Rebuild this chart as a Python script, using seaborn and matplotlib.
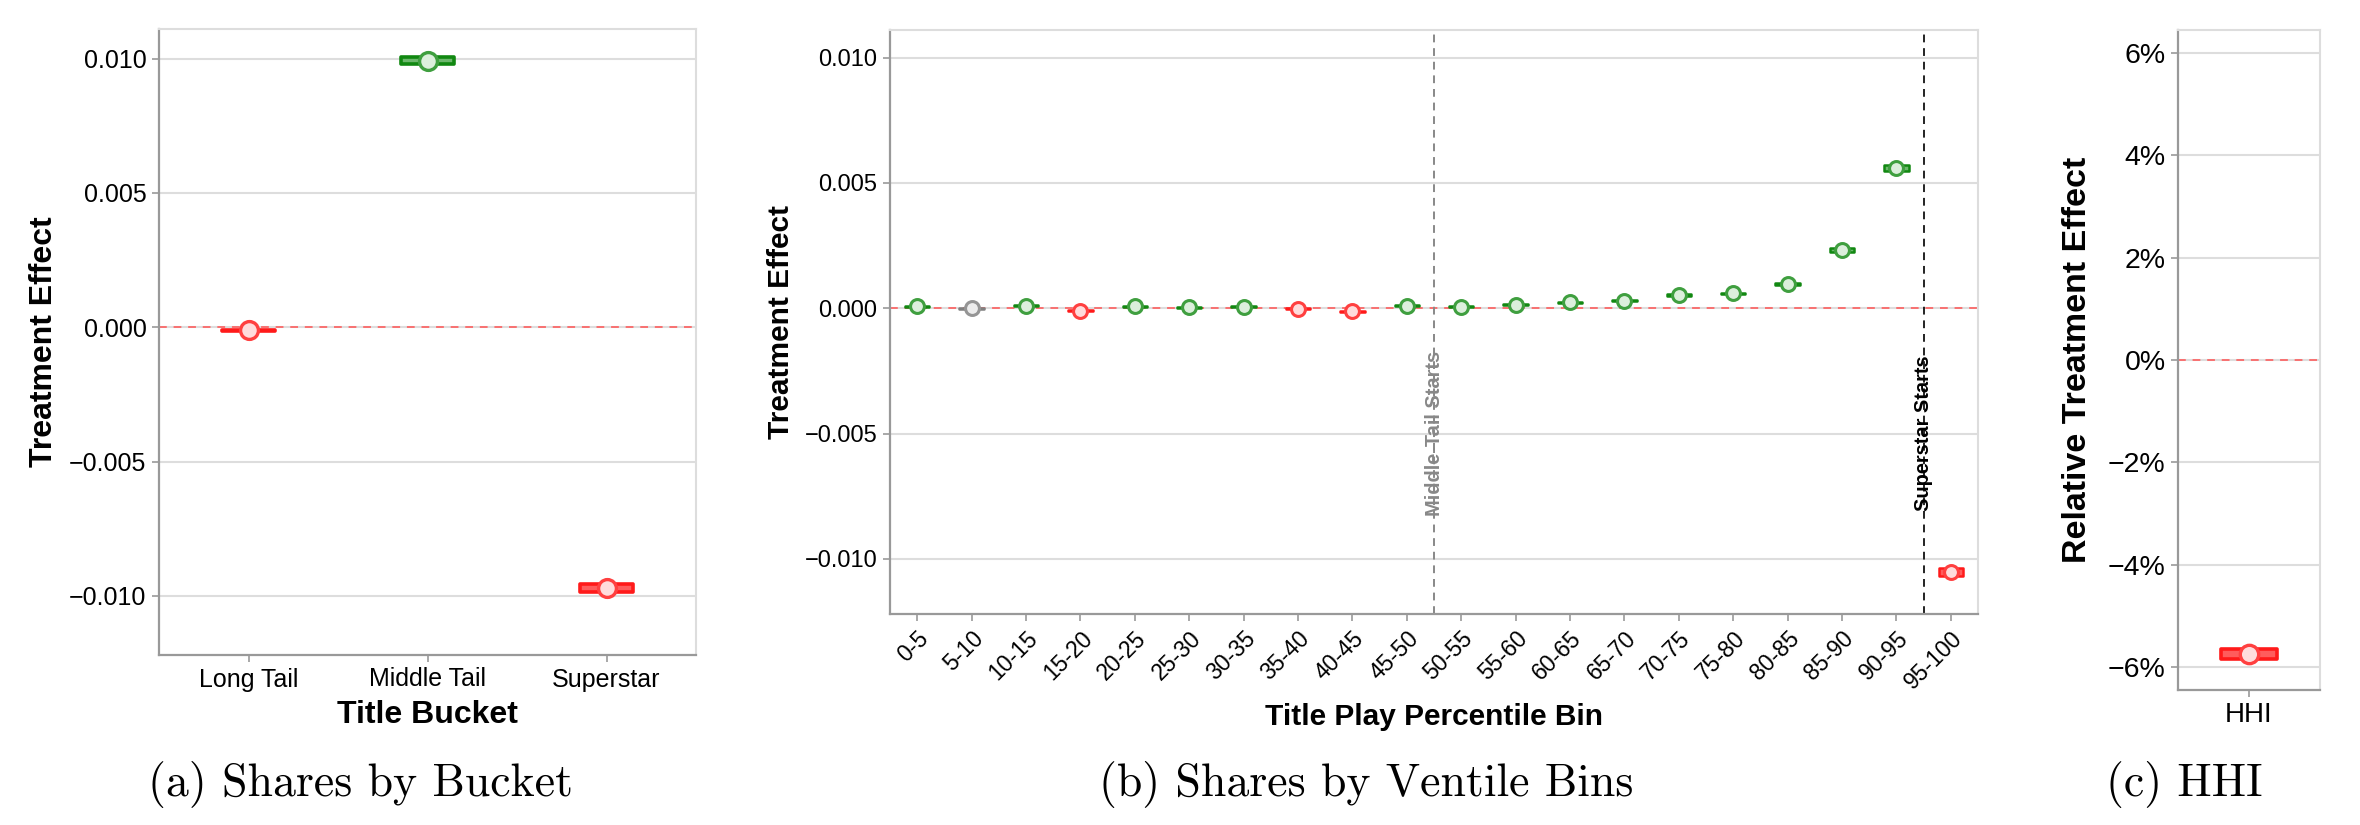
import matplotlib
matplotlib.use("Agg")
import matplotlib.pyplot as plt
import seaborn as sns
import pandas as pd
from matplotlib.ticker import FuncFormatter

# ---------------- data ----------------
# (a) shares by bucket
bucket_labels = ["Long Tail", "Middle Tail", "Superstar"]
bucket_effect = [-0.00012, 0.00992, -0.00970]
bucket_ci_low = [-0.00014, 0.00979, -0.00985]
bucket_ci_high = [-0.00010, 0.01005, -0.00955]
bucket_sig = ["neg", "pos", "neg"]

# (b) shares by ventile bins
bin_labels = ["0-5", "5-10", "10-15", "15-20", "20-25", "25-30", "30-35", "35-40",
              "40-45", "45-50", "50-55", "55-60", "60-65", "65-70", "70-75", "75-80",
              "80-85", "85-90", "90-95", "95-100"]
bin_effect = [0.00007, -0.00001, 0.00010, -0.00010, 0.00008, 0.00004, 0.00005, -0.00002,
              -0.00013, 0.00010, 0.00005, 0.00013, 0.00023, 0.00030, 0.00053, 0.00059,
              0.00097, 0.00234, 0.00559, -0.01051]
bin_ci_low = [0.00005, -0.00004, 0.00008, -0.00012, 0.00006, 0.00002, 0.00003, -0.00004,
              -0.00015, 0.00008, 0.00003, 0.00011, 0.00021, 0.00027, 0.00050, 0.00056,
              0.00093, 0.00226, 0.00547, -0.01067]
bin_ci_high = [0.00009, 0.00002, 0.00012, -0.00008, 0.00010, 0.00006, 0.00007, 0.00000,
               -0.00011, 0.00012, 0.00007, 0.00015, 0.00025, 0.00033, 0.00056, 0.00062,
               0.00101, 0.00242, 0.00571, -0.01035]
bin_sig = ["pos", "ns", "pos", "neg", "pos", "pos", "pos", "neg", "neg", "pos",
           "pos", "pos", "pos", "pos", "pos", "pos", "pos", "pos", "pos", "neg"]
middle_tail_start = 9.5
superstar_start = 18.5

# (c) HHI
hhi_labels = ["HHI"]
hhi_effect = [-0.0574]
hhi_ci_low = [-0.0584]
hhi_ci_high = [-0.0564]
hhi_sig = ["neg"]

# ---------------- style ----------------
sns.set_theme(style="whitegrid")
plt.rcParams["font.family"] = ["Liberation Sans", "DejaVu Sans"]
plt.rcParams["axes.unicode_minus"] = True

edge_col = {"pos": "#118811", "neg": "#ff1a1a", "ns": "#808080"}
fill_col = {"pos": "#6db86d", "neg": "#ff5c5c", "ns": "#a8a8a8"}
mk_edge = {"pos": "#3f9f3f", "neg": "#ff4040", "ns": "#959595"}
mk_face = {"pos": "#dcefdc", "neg": "#ffdcdc", "ns": "#ececec"}

W, H = 2360, 825
fig = plt.figure(figsize=(W / 100, H / 100), dpi=100)


def add_ax(left, right, top, bottom):
    return fig.add_axes([left / W, 1 - bottom / H, (right - left) / W, (bottom - top) / H])


def frac(box, px, py):
    left, right, top, bottom = box
    return (px - left) / (right - left), (bottom - py) / (bottom - top)


def dec_fmt(v, _):
    s = f"{abs(v):.3f}"
    return ("\u2212" + s) if v < -1e-12 else s


def pct_fmt(v, _):
    s = f"{abs(v) * 100:.0f}%"
    return ("\u2212" + s) if v < -1e-12 else s


def draw_panel(ax, labels, effect, lo, hi, sig, bar_w, bar_lw, mk_s, mk_lw):
    df = pd.DataFrame({"cat": labels, "effect": effect, "lo": lo, "hi": hi, "sig": sig})
    ax.axhline(0, color="#ff5555", lw=1.4, dashes=(4, 3.5), alpha=0.8, zorder=1.5)
    # CI capsules
    ax.bar(df["cat"], df["hi"] - df["lo"], bottom=df["lo"], width=bar_w,
           color=[fill_col[s] for s in df["sig"]],
           edgecolor=[edge_col[s] for s in df["sig"]],
           linewidth=bar_lw, joinstyle="round", capstyle="round", zorder=3)
    # point estimates
    for s in ["pos", "neg", "ns"]:
        sub = df[df["sig"] == s]
        if len(sub):
            sns.scatterplot(data=sub, x="cat", y="effect", ax=ax, s=mk_s,
                            color=mk_face[s], edgecolor=mk_edge[s], linewidth=mk_lw,
                            zorder=4, legend=False)
    ax.set_xlim(-0.5, len(labels) - 0.5)


def style_ax(ax, ysize, xsize):
    ax.grid(False, axis="x")
    ax.grid(True, axis="y", color="#dddddd", lw=1.5)
    for side in ["left", "bottom"]:
        ax.spines[side].set_color("#999999")
        ax.spines[side].set_linewidth(1.6)
    for side in ["top", "right"]:
        ax.spines[side].set_color("#dddddd")
        ax.spines[side].set_linewidth(1.5)
    ax.tick_params(axis="both", which="major", direction="out", length=5, width=1.2,
                   color="#999999", pad=4, labelcolor="black", bottom=True, left=True)
    ax.tick_params(axis="y", labelsize=ysize)
    ax.tick_params(axis="x", labelsize=xsize)


# ---------------- panel (a) ----------------
label_a = dict(fontsize=23, fontweight="bold", color="black")
box_a = (159, 696, 29, 655)
ax_a = add_ax(*box_a)
draw_panel(ax_a, bucket_labels, bucket_effect, bucket_ci_low, bucket_ci_high, bucket_sig,
           0.30, 2.6, 165, 2.4)
ax_a.set_ylim(-0.0122, 0.0111)
ax_a.set_yticks([-0.010, -0.005, 0.0, 0.005, 0.010])
ax_a.yaxis.set_major_formatter(FuncFormatter(dec_fmt))
style_ax(ax_a, 18, 18)
ax_a.set_ylabel("Treatment Effect", **label_a)
ax_a.set_xlabel("Title Bucket", **label_a)
ax_a.yaxis.set_label_coords(*frac(box_a, 44, 342))
ax_a.yaxis.label.set_va("center")
ax_a.xaxis.set_label_coords(*frac(box_a, 427, 715))
ax_a.xaxis.label.set_va("center")

# ---------------- panel (b) ----------------
label_b = dict(fontsize=21.5, fontweight="bold", color="black")
box_b = (890, 1978, 30, 614)
ax_b = add_ax(*box_b)
draw_panel(ax_b, bin_labels, bin_effect, bin_ci_low, bin_ci_high, bin_sig,
           0.45, 1.8, 100, 2.2)
ax_b.axvline(middle_tail_start, color="#888888", lw=1.4, dashes=(4, 3), zorder=2)
ax_b.axvline(superstar_start, color="#222222", lw=1.4, dashes=(4, 3), zorder=2)
ax_b.text(middle_tail_start, -0.0050, "Middle-Tail Starts", rotation=90, ha="center",
          va="center", color="#888888", fontsize=14.4, fontweight="bold", zorder=5)
ax_b.text(superstar_start, -0.0050, "Superstar Starts", rotation=90, ha="center",
          va="center", color="black", fontsize=14.4, fontweight="bold", zorder=5)
ax_b.set_ylim(-0.0122, 0.0111)
ax_b.set_yticks([-0.010, -0.005, 0.0, 0.005, 0.010])
ax_b.yaxis.set_major_formatter(FuncFormatter(dec_fmt))
style_ax(ax_b, 17, 16.5)
plt.setp(ax_b.get_xticklabels(), rotation=45, ha="right", va="top", rotation_mode="anchor")
ax_b.set_ylabel("Treatment Effect", **label_b)
ax_b.set_xlabel("Title Play Percentile Bin", **label_b)
ax_b.yaxis.set_label_coords(*frac(box_b, 781, 322))
ax_b.yaxis.label.set_va("center")
ax_b.xaxis.set_label_coords(*frac(box_b, 1434, 717))
ax_b.xaxis.label.set_va("center")

# ---------------- panel (c) ----------------
label_c = dict(fontsize=24.5, fontweight="bold", color="black")
box_c = (2178, 2320, 30, 690)
ax_c = add_ax(*box_c)
draw_panel(ax_c, hhi_labels, hhi_effect, hhi_ci_low, hhi_ci_high, hhi_sig,
           0.40, 2.6, 175, 2.4)
ax_c.set_ylim(-0.0644, 0.0644)
ax_c.set_yticks([-0.06, -0.04, -0.02, 0.0, 0.02, 0.04, 0.06])
ax_c.yaxis.set_major_formatter(FuncFormatter(pct_fmt))
style_ax(ax_c, 20.5, 20)
ax_c.set_xlabel("")
ax_c.set_ylabel("Relative Treatment Effect", **label_c)
ax_c.yaxis.set_label_coords(*frac(box_c, 2077, 360))
ax_c.yaxis.label.set_va("center")

# ---------------- captions ----------------
cap_kw = dict(ha="center", va="center", fontsize=33, fontfamily="cmr10", color="black")
fig.text(361 / W, 1 - 785 / H, "(a) Shares by Bucket", **cap_kw)
fig.text(1366 / W, 1 - 785 / H, "(b) Shares by Ventile Bins", **cap_kw)
fig.text(2184 / W, 1 - 785 / H, "(c) HHI", **cap_kw)

fig.savefig("out.png", dpi=100, facecolor="white")
